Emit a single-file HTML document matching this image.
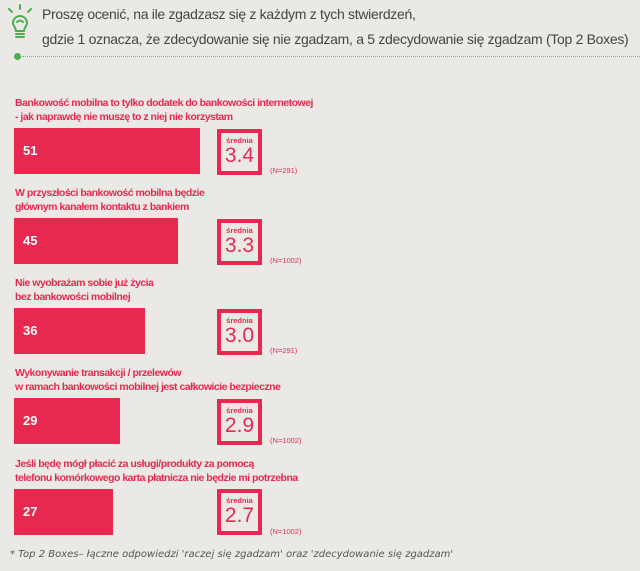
<!DOCTYPE html>
<html><head><meta charset="utf-8"><style>
*{margin:0;padding:0;box-sizing:border-box}
body{width:640px;height:571px;background:#ebe9e5;position:relative;overflow:hidden;font-family:"Liberation Sans",sans-serif}
.t{position:absolute;left:42px;font-size:14px;color:#444;letter-spacing:-0.3px}
.lab{position:absolute;left:15px;font-size:10.5px;font-weight:bold;color:#e8294f;line-height:14px;letter-spacing:-0.5px}
.bar{position:absolute;left:14px;height:46px;background:#e8294f;color:#fff;font-weight:bold;font-size:13px;padding-left:9px;line-height:46px}
.box{position:absolute;left:217px;width:45px;height:46px;border:4px solid #e8294f;color:#e8294f;text-align:center}
.box .s{font-size:7.5px;font-weight:bold;margin-top:4px;line-height:8px}
.box .v{font-size:21px;line-height:22px}
.n{position:absolute;left:270px;font-size:7.5px;color:#e8294f}
</style></head><body>
<svg style="position:absolute;left:6px;top:4px" width="28" height="40" viewBox="0 0 28 40">
<g stroke="#4caf50" stroke-width="2" fill="none" stroke-linecap="round">
<line x1="3" y1="5" x2="6" y2="8"/><line x1="14" y1="1" x2="14" y2="5"/><line x1="25" y1="5" x2="22" y2="8"/>
<path d="M7 19a7 7 0 1 1 14 0c0 3-3 5-3 8h-8c0-3-3-5-3-8z"/>
<line x1="10" y1="30" x2="18" y2="30"/><line x1="10" y1="33" x2="18" y2="33"/>
<path d="M11 18q3-3 6 0"/>
</g></svg>
<div class="t" style="top:6px">Proszę ocenić, na ile zgadzasz się z każdym z tych stwierdzeń,</div>
<div class="t" style="top:31px">gdzie 1 oznacza, że zdecydowanie się nie zgadzam, a 5 zdecydowanie się zgadzam (Top 2 Boxes)</div>
<div style="position:absolute;left:14px;top:53px;width:7px;height:7px;border-radius:50%;background:#4caf50"></div>
<div style="position:absolute;left:22px;top:56px;width:618px;border-top:1px dotted #6bbf6e"></div>

<div class="lab" style="top:96px">Bankowość mobilna to tylko dodatek do bankowości internetowej<br>- jak naprawdę nie muszę to z niej nie korzystam</div>
<div class="bar" style="top:128px;width:186px">51</div>
<div class="box" style="top:129px"><div class="s">średnia</div><div class="v">3.4</div></div>
<div class="n" style="top:166px">(N=291)</div>

<div class="lab" style="top:186px">W przyszłości bankowość mobilna będzie<br>głównym kanałem kontaktu z bankiem</div>
<div class="bar" style="top:218px;width:164px">45</div>
<div class="box" style="top:219px"><div class="s">średnia</div><div class="v">3.3</div></div>
<div class="n" style="top:256px">(N=1002)</div>

<div class="lab" style="top:276px">Nie wyobrażam sobie już życia<br>bez bankowości mobilnej</div>
<div class="bar" style="top:308px;width:131px">36</div>
<div class="box" style="top:309px"><div class="s">średnia</div><div class="v">3.0</div></div>
<div class="n" style="top:346px">(N=291)</div>

<div class="lab" style="top:366px">Wykonywanie transakcji / przelewów<br>w ramach bankowości mobilnej jest całkowicie bezpieczne</div>
<div class="bar" style="top:398px;width:106px">29</div>
<div class="box" style="top:399px"><div class="s">średnia</div><div class="v">2.9</div></div>
<div class="n" style="top:436px">(N=1002)</div>

<div class="lab" style="top:457px">Jeśli będę mógł płacić za usługi/produkty za pomocą<br>telefonu komórkowego karta płatnicza nie będzie mi potrzebna</div>
<div class="bar" style="top:489px;width:99px">27</div>
<div class="box" style="top:489px"><div class="s">średnia</div><div class="v">2.7</div></div>
<div class="n" style="top:527px">(N=1002)</div>

<div style="position:absolute;left:10px;top:549px;font-size:10px;font-style:italic;color:#555;font-family:'DejaVu Sans',sans-serif">* Top 2 Boxes– łączne odpowiedzi 'raczej się zgadzam' oraz 'zdecydowanie się zgadzam'</div>
</body></html>
